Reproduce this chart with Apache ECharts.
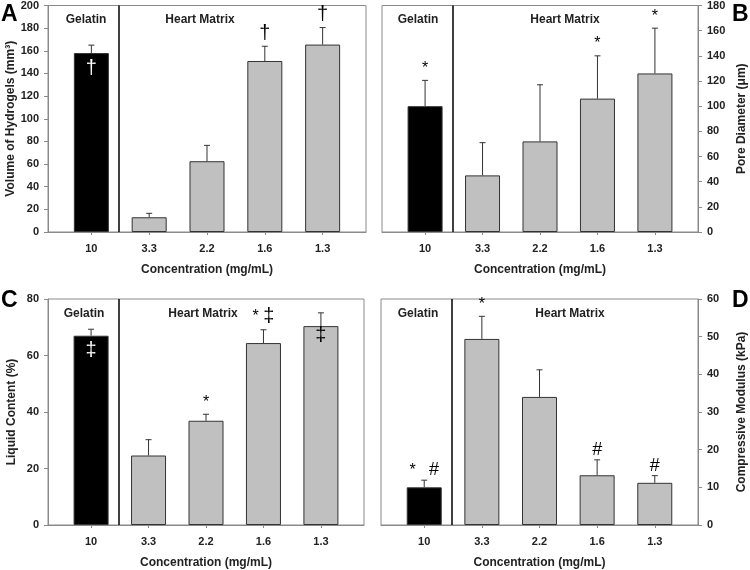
<!DOCTYPE html>
<html>
<head>
<meta charset="utf-8">
<script src="https://cdn.jsdelivr.net/npm/echarts@6/dist/echarts.min.js"></script>
<style>
  html, body { margin: 0; padding: 0; background: #fff; }
  #main { width: 750px; height: 570px; }
</style>
</head>
<body>
<div id="main"></div>
<script>
// concentrations (mg/mL), first one is gelatin, rest heart matrix
var cats = ['10', '3.3', '2.2', '1.6', '1.3'];

// A: volume of hydrogels (mm3)
var volMean = [158, 13, 62.5, 151, 165.5];
var volErr = [7, 3.5, 14, 13, 15];
var volSig = ['†', '', '', '†', '†'];

// B: pore diameter (um)
var poreMean = [100, 45, 72, 106, 126];
var poreErr = [20.5, 26, 45, 34, 36];
var poreSig = ['*', '', '', '*', '*'];

// C: liquid content (%)
var liqMean = [67, 24.6, 36.9, 64.4, 70.4];
var liqErr = [2.3, 5.6, 2.3, 4.7, 4.7];
var liqSig = ['‡', '', '*', '* ‡', '‡'];

// D: compressive modulus (kPa)
var modMean = [10, 49.4, 34, 13.2, 11.2];
var modErr = [1.9, 6, 7.2, 4.1, 1.9];
var modSig = ['*   #', '*', '', '#', '#'];

var FONT = '"Liberation Sans", Arial, sans-serif';
var GRAY_BAR = '#c0c0c0';
var FRAME = '#8a8a8a';

var panels = [
    { letter: 'A', left: 48, top: 5, width: 318, yMax: 200, yInt: 20, pos: 'left',
      name: 'Volume of Hydrogels (mm³)', mean: volMean, err: volErr, sig: volSig,
      inside: [true, false, false, false, false],
      letterX: 1, letterY: 3, gelX: 86, hmX: 200 },
    { letter: 'B', left: 382, top: 5, width: 316, yMax: 180, yInt: 20, pos: 'right',
      name: 'Pore Diameter (μm)', mean: poreMean, err: poreErr, sig: poreSig,
      inside: [false, false, false, false, false],
      letterX: 732, letterY: 3, gelX: 418, hmX: 565 },
    { letter: 'C', left: 48, top: 299, width: 316, yMax: 80, yInt: 20, pos: 'left',
      name: 'Liquid Content (%)', mean: liqMean, err: liqErr, sig: liqSig,
      inside: [true, false, false, false, true],
      letterX: 1, letterY: 289, gelX: 84, hmX: 203 },
    { letter: 'D', left: 381, top: 299, width: 317, yMax: 60, yInt: 10, pos: 'right',
      name: 'Compressive Modulus (kPa)', mean: modMean, err: modErr, sig: modSig,
      inside: [false, false, false, false, false],
      letterX: 732, letterY: 289, gelX: 418, hmX: 570 }
];

var grid = [], xAxis = [], yAxis = [], series = [], graphic = [];

var sigRich = {
    s: { fontSize: 16, fontFamily: FONT, lineHeight: 20 },
    h: { fontSize: 18, fontFamily: FONT, lineHeight: 20 },
    d: { fontSize: 20, fontFamily: FONT, lineHeight: 20 }
};
function richSig(t) {
    return t.split('').map(function (c) {
        if (c === '*') return '{s|*}';
        if (c === '#') return '{h|#}';
        if (c === '†' || c === '‡') return '{d|' + c + '}';
        return '{s|' + c + '}';
    }).join('');
}
function sigGap(t) {
    if (t.indexOf('#') >= 0) return 10;
    if (t === '*') return 12;
    return 13;
}

panels.forEach(function (p, k) {
    grid.push({
        left: p.left, top: p.top, width: p.width, height: 227,
        show: true, borderColor: FRAME, borderWidth: 1, backgroundColor: 'transparent'
    });
    xAxis.push({
        type: 'value', gridIndex: k, min: -0.75, max: 4.75,
        splitLine: { show: false },
        axisLine: { onZero: false, lineStyle: { color: FRAME } },
        axisTick: { show: true, length: 3, customValues: [0, 1, 2, 3, 4], lineStyle: { color: FRAME } },
        axisLabel: {
            customValues: [0, 1, 2, 3, 4],
            margin: 11, color: '#222', fontSize: 11, fontWeight: 'bold', fontFamily: FONT,
            formatter: function (v) { return Math.abs(v - Math.round(v)) < 1e-6 ? cats[Math.round(v)] : ''; }
        },
        name: 'Concentration (mg/mL)', nameLocation: 'middle', nameGap: 32,
        nameTextStyle: { color: '#222', fontSize: 12, fontWeight: 'bold', fontFamily: FONT }
    });
    yAxis.push({
        type: 'value', gridIndex: k, min: 0, max: p.yMax, interval: p.yInt, position: p.pos,
        splitLine: { show: false },
        axisLine: { show: true, onZero: false, lineStyle: { color: FRAME } },
        axisTick: { show: true, length: 4, lineStyle: { color: FRAME } },
        axisLabel: { margin: 9, color: '#222', fontSize: 11, fontWeight: 'bold', fontFamily: FONT },
        name: p.name, nameLocation: 'middle', nameRotate: 90,
        nameGap: p.pos === 'left' ? 30 : 38,
        nameTextStyle: { color: '#222', fontSize: 12, fontWeight: 'bold', fontFamily: FONT }
    });

    // bars
    series.push({
        type: 'bar', xAxisIndex: k, yAxisIndex: k, barWidth: 35, z: 2,
        data: p.mean.map(function (v, i) {
            return {
                value: [i, v],
                itemStyle: { color: i === 0 ? '#000' : GRAY_BAR, borderColor: '#333', borderWidth: 1 }
            };
        }),
        markLine: {
            silent: true, symbol: 'none', label: { show: false },
            lineStyle: { color: '#000', width: 1.5, type: 'solid' },
            data: [{ xAxis: 0.48 }]
        }
    });

    // upper error bars
    series.push({
        type: 'custom', xAxisIndex: k, yAxisIndex: k, z: 3,
        data: p.mean.map(function (v, i) { return [i, v, p.err[i]]; }),
        renderItem: function (params, api) {
            var x = api.value(0), v = api.value(1), e = api.value(2);
            var a = api.coord([x, v]), b = api.coord([x, v + e]);
            var st = { stroke: '#333', lineWidth: 1 };
            return {
                type: 'group', children: [
                    { type: 'line', shape: { x1: a[0], y1: a[1], x2: b[0], y2: b[1] }, style: st },
                    { type: 'line', shape: { x1: b[0] - 3, y1: b[1], x2: b[0] + 3, y2: b[1] }, style: st }
                ]
            };
        }
    });

    // significance markers
    series.push({
        type: 'custom', xAxisIndex: k, yAxisIndex: k, z: 4,
        data: p.mean.map(function (v, i) { return [i, v, p.err[i]]; }),
        renderItem: function (params, api) {
            var i = params.dataIndex;
            var t = p.sig[i];
            if (!t) return null;
            var x = api.value(0), v = api.value(1), e = api.value(2);
            var y, fill = '#000';
            if (p.inside[i]) {
                y = api.coord([x, v])[1] + (i === 0 ? 15 : 9);
                if (i === 0) fill = '#fff';
            } else {
                y = api.coord([x, v + e])[1] - sigGap(t);
            }
            return {
                type: 'text', x: api.coord([x, v])[0], y: y,
                style: {
                    text: richSig(t), rich: sigRich, fill: fill,
                    align: 'center', verticalAlign: 'middle'
                }
            };
        }
    });

    graphic.push({
        type: 'text', left: p.letterX, top: p.letterY,
        style: { text: p.letter, font: 'bold 23px ' + FONT, fill: '#000' }
    });
    graphic.push({
        type: 'text', x: p.gelX, y: p.top + 15,
        style: { text: 'Gelatin', font: 'bold 12px ' + FONT, fill: '#222', align: 'center', verticalAlign: 'middle' }
    });
    graphic.push({
        type: 'text', x: p.hmX, y: p.top + 15,
        style: { text: 'Heart Matrix', font: 'bold 12px ' + FONT, fill: '#222', align: 'center', verticalAlign: 'middle' }
    });
});

var myChart = echarts.init(document.getElementById('main'), null, { renderer: 'canvas' });
myChart.setOption({
    animation: false,
    backgroundColor: '#fff',
    grid: grid,
    xAxis: xAxis,
    yAxis: yAxis,
    series: series,
    graphic: graphic
});
</script>
</body>
</html>
